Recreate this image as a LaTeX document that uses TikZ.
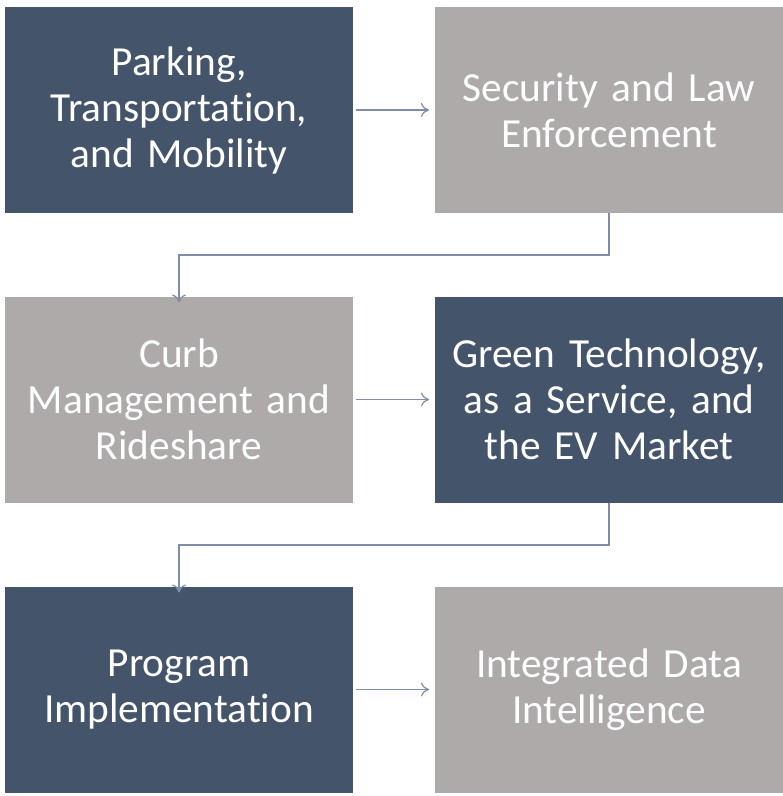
\documentclass[tikz,border=0pt]{standalone}
\usepackage{fontspec}
\setmainfont{Carlito}[Ligatures=NoCommon,WordSpace=0.9]
\usetikzlibrary{arrows.meta}
\definecolor{darkbox}{HTML}{44546A}
\definecolor{graybox}{HTML}{AEAAAA}
\definecolor{conn}{HTML}{7F8EA6}
\begin{document}
\begin{tikzpicture}[x=0.75pt,y=-0.75pt,
  boxbase/.style={minimum width=348*0.75pt, minimum height=206*0.75pt, inner sep=0pt, outer sep=0pt,
    text=white, align=center, font=\fontsize{31}{34.5}\selectfont, text width=340*0.75pt},
  darkstep/.style={boxbase, fill=darkbox},
  graystep/.style={boxbase, fill=graybox},
  conn/.style={draw=conn, line width=0.9pt, -{To[length=6pt,width=10.5pt]}}]
\useasboundingbox (0,0) rectangle (782,796);
\node[darkstep] (b1) at (179,110) {Parking,\\Transportation,\\and Mobility};
\node[graystep] (b2) at (609,110) {Security and Law\\Enforcement};
\node[graystep] (b3) at (179,399.5) {Curb\\Management and\\Rideshare};
\node[darkstep] (b4) at (609,399.5) {Green Technology,\\as a Service, and\\the EV Market};
\node[darkstep] (b5) at (179,689.5) {Program\\Implementation};
\node[graystep] (b6) at (609,689.5) {Integrated Data\\Intelligence};
\coordinate (e1) at (609,255);
\coordinate (e2) at (609,545);
\draw[conn] ([xshift=3*0.75pt]b1.east) -- ([xshift=-6*0.75pt]b2.west);
\draw[conn] ([xshift=3*0.75pt]b3.east) -- ([xshift=-6*0.75pt]b4.west);
\draw[conn] ([xshift=3*0.75pt]b5.east) -- ([xshift=-6*0.75pt]b6.west);
\draw[conn] (b2.south) -- (e1) -| ([yshift=-6*0.75pt]b3.north);
\draw[conn] (b4.south) -- (e2) -| ([yshift=-6*0.75pt]b5.north);
\end{tikzpicture}
\end{document}
